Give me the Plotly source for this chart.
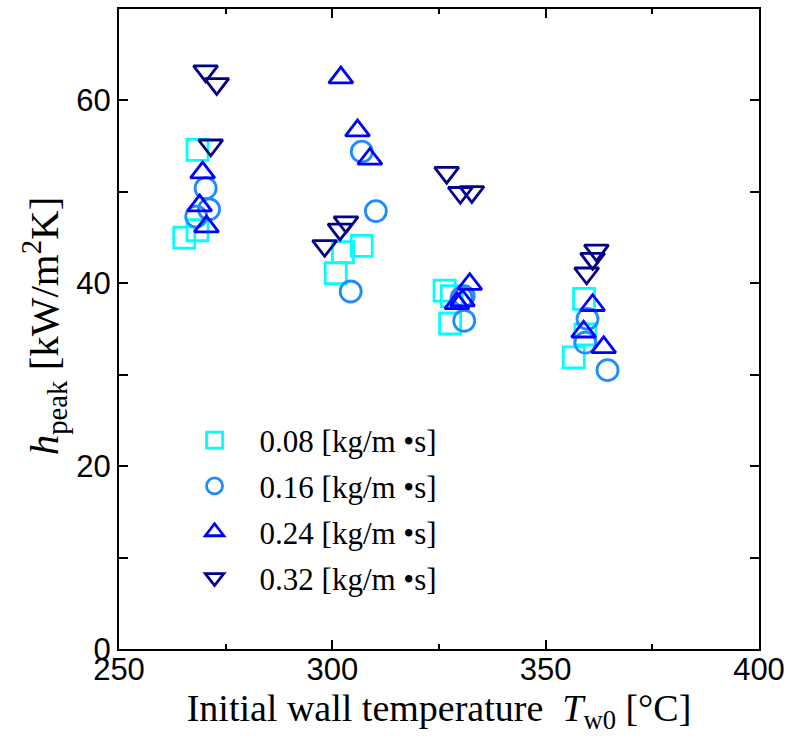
import plotly.graph_objects as go

# Peak heat transfer coefficient vs. initial wall temperature, per mass flux
flux_labels = ["0.08 [kg/m •s]", "0.16 [kg/m •s]", "0.24 [kg/m •s]", "0.32 [kg/m •s]"]

tw_008 = [268.4, 265.3, 268.4, 306.9, 302.5, 300.8, 326.3, 328.0, 327.6, 359.0, 359.3, 356.6]
h_008 = [54.6, 45.0, 45.8, 44.1, 43.4, 41.1, 39.2, 38.6, 35.6, 38.3, 34.4, 31.9]

tw_016 = [270.3, 271.1, 268.1, 306.9, 310.2, 304.3, 330.3, 330.9, 330.8, 359.8, 359.3, 364.5]
h_016 = [50.4, 48.1, 47.3, 54.4, 47.9, 39.1, 38.4, 35.9, 38.6, 36.1, 33.5, 30.5]

tw_024 = [269.6, 268.9, 270.5, 302.0, 305.9, 308.8, 332.2, 330.5, 329.2, 361.0, 358.9, 363.6]
h_024 = [52.1, 48.5, 46.2, 62.5, 56.7, 53.6, 39.9, 38.1, 37.8, 37.6, 34.7, 33.0]

tw_032 = [270.3, 272.9, 271.5, 303.2, 301.8, 298.2, 326.8, 330.0, 332.7, 361.9, 361.0, 359.6]
h_032 = [63.2, 61.8, 55.1, 46.7, 45.9, 44.1, 52.1, 49.9, 50.0, 43.6, 42.7, 41.1]

series = [
    (tw_008, h_008, "square-open", "#00FFFF"),
    (tw_016, h_016, "circle-open", "#1E8CFF"),
    (tw_024, h_024, "triangle-up-open", "#0000FF"),
    (tw_032, h_032, "triangle-down-open", "#000088"),
]

fig = go.Figure()
for i, ((xs, ys, sym, col), name) in enumerate(zip(series, flux_labels)):
    fig.add_trace(go.Scatter(
        x=xs, y=ys, mode="markers", name=name, legendgroup=f"g{i}",
        marker=dict(symbol=sym, size=21, color=col, line=dict(width=2.8, color=col)),
    ))

tick_font = dict(family="Liberation Sans, Arial", size=31, color="black")
serif = "Liberation Serif, Times New Roman"

fig.update_layout(
    width=792, height=746,
    margin=dict(l=119, r=33, t=7, b=97),
    plot_bgcolor="white", paper_bgcolor="white",
    showlegend=True,
    legend=dict(
        x=0.079, y=0.368, xanchor="left", yanchor="top",
        font=dict(family=serif, size=31, color="black"),
        bgcolor="rgba(0,0,0,0)", itemwidth=80, itemsizing="trace",
        traceorder="grouped", tracegroupgap=2.5,
    ),
    xaxis=dict(
        range=[250, 400], dtick=50, tick0=250,
        showgrid=False, zeroline=False,
        showline=True, linecolor="black", linewidth=2, mirror="ticks",
        ticks="inside", ticklen=9, tickwidth=2, tickcolor="black",
        minor=dict(dtick=25, ticks="inside", ticklen=5, tickwidth=2, tickcolor="black"),
        tickfont=tick_font, ticklabelstandoff=-8,
        title=dict(text="Initial wall temperature  <i>T</i><sub>w0</sub> [°C]",
                   font=dict(family=serif, size=38, color="black"), standoff=8),
    ),
    yaxis=dict(
        range=[0, 70], dtick=20, tick0=0,
        showgrid=False, zeroline=False,
        showline=True, linecolor="black", linewidth=2, mirror="ticks",
        ticks="inside", ticklen=9, tickwidth=2, tickcolor="black",
        minor=dict(dtick=10, ticks="inside", ticklen=9, tickwidth=2, tickcolor="black"),
        tickfont=tick_font,
    ),
    annotations=[dict(
        text="<i>h</i><sub>peak</sub> [kW/m<sup>2</sup>K]",
        xref="paper", yref="paper", x=-0.118, y=0.505,
        xanchor="center", yanchor="middle", textangle=-90, showarrow=False,
        font=dict(family=serif, size=41, color="black"),
    )],
)

fig.write_html("out.html")
